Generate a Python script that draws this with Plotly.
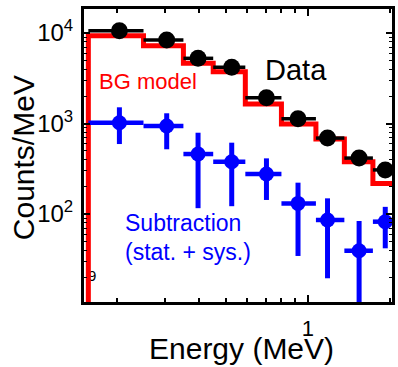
import plotly.graph_objects as go

# ---- data ----
bin_edges = [0.157, 0.25, 0.35, 0.45, 0.59, 0.80, 1.07, 1.36, 1.73, 2.1]
x_centers = [0.204, 0.304, 0.396, 0.526, 0.705, 0.92, 1.18, 1.54, 1.92]

data_counts = [10600, 8380, 5250, 4180, 1930, 1130, 690, 415, 307]
bg_model = [9340, 7240, 4630, 3730, 1640, 986, 675, 378, 218]

sub_counts = [1020, 938, 460, 378, 277, 131, 85.9, 39.3, 82.3]
sub_upper = [1510, 1297, 791, 614, 412, 222, 149, 83.8, 120]
sub_lower = [593, 519, 116, 122, 143, 34.4, 19.5, 8.0, 41.8]

x_tick_major = [1]
x_tick_minor = [0.2, 0.3, 0.4, 0.5, 0.6, 0.7, 0.8, 0.9, 2]
y_tick_major = [100, 1000, 10000]
y_tick_labels = ["10<sup>2</sup>", "10<sup>3</sup>", "10<sup>4</sup>"]
y_tick_minor = [v * m for m in (10, 100, 1000) for v in range(2, 10)] + [20000]

FONT = "Liberation Sans, Arial, sans-serif"
RED = "#ff0000"
BLUE = "#0000ff"

# x error spans (bin widths)
ex_plus_d = [bin_edges[i + 1] - x_centers[i] for i in range(len(x_centers))]
ex_minus_d = [x_centers[i] - bin_edges[i] for i in range(len(x_centers))]
ey_plus = [u - c for u, c in zip(sub_upper, sub_counts)]
ey_minus = [c - l for c, l in zip(sub_counts, sub_lower)]

fig = go.Figure()

# stray minor tick label partially hidden behind model line
fig.add_trace(go.Scatter(x=[0.162], y=[20], mode="text", text=["9"],
                         textfont=dict(family=FONT, size=15, color="black"),
                         showlegend=False, hoverinfo="skip", cliponaxis=False))

# BG model step histogram
step_x = [bin_edges[0]] + bin_edges
step_y = [1] + bg_model + [bg_model[-1]]
fig.add_trace(go.Scatter(x=step_x, y=step_y, mode="lines",
                         line=dict(color=RED, width=5, shape="hv"),
                         showlegend=False, hoverinfo="skip"))

# Data points
fig.add_trace(go.Scatter(x=x_centers, y=data_counts, mode="markers",
                         marker=dict(color="black", size=17),
                         error_x=dict(type="data", symmetric=False,
                                      array=ex_plus_d, arrayminus=ex_minus_d,
                                      color="black", thickness=3.5, width=0),
                         showlegend=False))

# Subtraction points
fig.add_trace(go.Scatter(x=x_centers, y=sub_counts, mode="markers",
                         marker=dict(color=BLUE, size=15),
                         error_x=dict(type="data", symmetric=False,
                                      array=ex_plus_d, arrayminus=ex_minus_d,
                                      color=BLUE, thickness=4.5, width=0),
                         error_y=dict(type="data", symmetric=False,
                                      array=ey_plus, arrayminus=ey_minus,
                                      color=BLUE, thickness=5, width=0),
                         showlegend=False))

axis_common = dict(showline=True, linecolor="black", linewidth=3,
                   mirror="allticks", ticks="inside", tickcolor="black",
                   tickwidth=1.5, showgrid=False, zeroline=False)

fig.update_xaxes(type="log", range=[-0.82, 0.308],
                 tickmode="array", tickvals=x_tick_major, ticktext=["1"],
                 ticklen=7, ticklabelstandoff=5,
                 tickfont=dict(family=FONT, size=22, color="black"),
                 minor=dict(ticks="inside", ticklen=4, tickcolor="black",
                            tickwidth=1.5, tickmode="array", tickvals=x_tick_minor),
                 **axis_common)
fig.update_yaxes(type="log", range=[1.028, 4.265],
                 tickmode="array", tickvals=y_tick_major, ticktext=y_tick_labels,
                 ticklen=6, ticklabelstandoff=3,
                 tickfont=dict(family=FONT, size=24, color="black"),
                 minor=dict(ticks="inside", ticklen=3, tickcolor="black",
                            tickwidth=1.2, tickmode="array", tickvals=y_tick_minor),
                 **axis_common)

ann = [
    dict(text="Data", x=0.582, y=0.792, xanchor="left", yanchor="middle",
         font=dict(family=FONT, size=29, color="black")),
    dict(text="BG model", x=0.042, y=0.753, xanchor="left", yanchor="middle",
         font=dict(family=FONT, size=22, color=RED)),
    dict(text="Subtraction", x=0.125, y=0.268, xanchor="left", yanchor="middle",
         font=dict(family=FONT, size=23, color=BLUE)),
    dict(text="(stat. + sys.)", x=0.125, y=0.169, xanchor="left", yanchor="middle",
         font=dict(family=FONT, size=23, color=BLUE)),
    dict(text="Energy (MeV)", x=0.510, y=-0.159, xanchor="center", yanchor="middle",
         font=dict(family=FONT, size=30, color="black")),
    dict(text="Counts/MeV", x=-0.196, y=0.493, xanchor="center", yanchor="middle",
         textangle=-90, font=dict(family=FONT, size=30, color="black")),
]
for a in ann:
    a.update(xref="paper", yref="paper", showarrow=False)

fig.update_layout(width=398, height=367,
                  margin=dict(l=84, r=3, t=9, b=65),
                  paper_bgcolor="white", plot_bgcolor="white",
                  annotations=ann, showlegend=False)

fig.write_html("out.html", config={"displayModeBar": False},
               post_script="document.body.style.margin='0';document.body.style.overflow='hidden';")
